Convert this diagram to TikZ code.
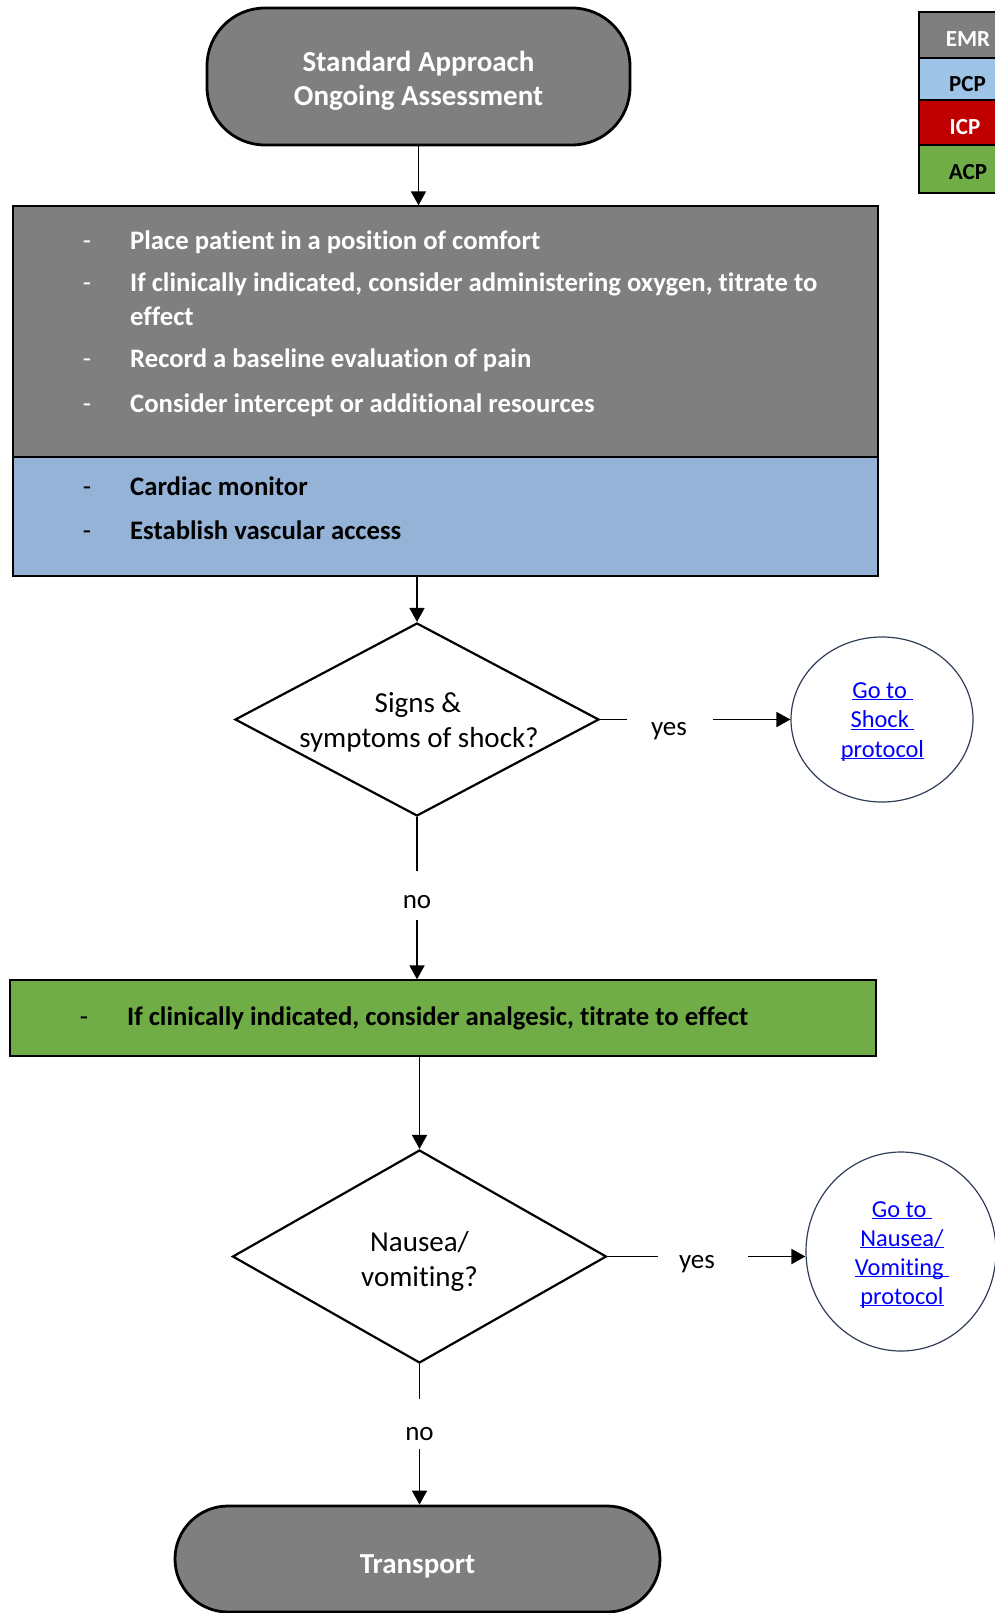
\documentclass[tikz,border=0pt]{standalone}
\usepackage{fontspec}
\setmainfont{Carlito}[Ligatures=NoCommon]
\usetikzlibrary{arrows.meta,shapes.geometric}
\definecolor{boxgray}{HTML}{7F7F7F}
\definecolor{pcpblue}{HTML}{95B3D7}
\definecolor{legblue}{HTML}{9DC3E6}
\definecolor{icpred}{HTML}{C00000}
\definecolor{acpgreen}{HTML}{70AD47}
\definecolor{linkblue}{HTML}{0000FF}
\definecolor{circedge}{HTML}{2F3E56}
\newcommand{\lnk}[1]{\underline{\smash{#1}}}
\begin{document}
\begin{tikzpicture}[x=1pt,y=-1pt,
  terminal/.style={draw=black, line width=2.8pt, fill=boxgray, rounded corners=58pt, inner sep=0},
  termtext/.style={anchor=base, inner sep=0, text=white, font=\fontsize{29}{33}\selectfont\bfseries},
  panel/.style={draw=black, line width=1.3pt, inner sep=0},
  bullettext/.style={anchor=base west, inner sep=0, font=\fontsize{26.7}{30}\selectfont\bfseries},
  dashmark/.style={anchor=base, inner sep=0, font=\fontsize{27}{30}\selectfont},
  decision/.style={draw=black, line width=2.2pt, shape=diamond, inner sep=0},
  dectext/.style={anchor=base, inner sep=0, font=\fontsize{29}{34}\selectfont},
  lbl/.style={anchor=base, inner sep=0, font=\fontsize{27}{30}\selectfont},
  link/.style={draw=circedge, line width=1.2pt, shape=ellipse, inner sep=0},
  linktext/.style={anchor=base, inner sep=0, text=linkblue, font=\fontsize{24.4}{29}\selectfont},
  legendbox/.style={draw=black, line width=2.6pt, minimum width=101pt, inner sep=0},
  legendtext/.style={anchor=base, inner sep=0, font=\fontsize{23}{26}\selectfont\bfseries},
  conn/.style={line width=1.8pt},
  arr/.style={line width=1.8pt, -{Triangle[length=14pt,width=15pt]}}
]
\useasboundingbox (0,0) rectangle (995,1613);

% legend
\node[legendbox, fill=boxgray, minimum height=46pt] (lemr) at (969.5,35) {};
\node[legendbox, fill=legblue, minimum height=42pt] (lpcp) at (969.5,79) {};
\node[legendbox, fill=icpred, minimum height=45pt] (licp) at (969.5,122.5) {};
\node[legendbox, fill=acpgreen, minimum height=48pt] (lacp) at (969.5,169) {};
\node[legendtext, text=white] (temr) at (968,47) {EMR};
\node[legendtext, text=black] (tpcp) at (967.5,92) {PCP};
\node[legendtext, text=white] (ticp) at (965,135) {ICP};
\node[legendtext, text=black] (tacp) at (968,180) {ACP};

% start terminal
\node[terminal, minimum width=423pt, minimum height=137pt] (start) at (418.5,76.5) {};
\node[termtext] (start1) at (418.5,71.5) {Standard Approach};
\node[termtext] (start2) at (418.5,105.5) {Ongoing Assessment};

% gray and blue panels
\node[panel, fill=boxgray, minimum width=865pt, minimum height=251pt] (gray) at (445.5,331.5) {};
\node[panel, fill=pcpblue, minimum width=865pt, minimum height=119pt] (blue) at (445.5,516.5) {};

\begin{scope}[text=white]
\node[dashmark] (g1d) at (87,250) {-};
\node[bullettext] (g1) at (130,250) {Place patient in a position of comfort};
\node[dashmark] (g2d) at (87,291) {-};
\node[bullettext] (g2) at (130,291) {If clinically indicated, consider administering oxygen, titrate to};
\node[bullettext] (g2b) at (130,325.7) {effect};
\node[dashmark] (g3d) at (87,367.7) {-};
\node[bullettext] (g3) at (130,367.7) {Record a baseline evaluation of pain};
\node[dashmark] (g4d) at (87,412.7) {-};
\node[bullettext] (g4) at (130,412.7) {Consider intercept or additional resources};
\end{scope}
\node[dashmark] (b1d) at (87,495) {-};
\node[bullettext] (b1) at (130,495) {Cardiac monitor};
\node[dashmark] (b2d) at (87,539) {-};
\node[bullettext] (b2) at (130,539) {Establish vascular access};

\draw[arr] (start.south) -- (start.south |- gray.north);

% decision 1
\node[decision, minimum width=364pt, minimum height=193pt] (d1) at (417,719.5) {};
\node[dectext] (d1t1) at (418,712) {Signs \&};
\node[dectext] (d1t2) at (419,747) {symptoms of shock?};
\draw[arr] (blue.south -| d1.north) -- (d1.north);

\coordinate (y1a) at (627,719.5);
\coordinate (y1b) at (713,719.5);
\node[lbl] (y1) at (669,735) {yes};
\node[link, minimum width=182pt, minimum height=165pt] (c1) at (882,719.5) {};
\node[linktext] (c1t1) at (882.5,698) {\lnk{Go to\ }};
\node[linktext] (c1t2) at (882.5,727.5) {\lnk{Shock\ }};
\node[linktext] (c1t3) at (882.5,757) {\lnk{protocol}};
\draw[conn] (d1.east) -- (y1a);
\draw[arr] (y1b) -- (c1.west);

\coordinate (n1a) at (417,871);
\coordinate (n1b) at (417,920);
\node[lbl] (n1) at (417,908) {no};
\draw[conn] (d1.south) -- (n1a);

% green panel
\node[panel, fill=acpgreen, minimum width=866pt, minimum height=76pt] (green) at (443,1018) {};
\node[dashmark] (gr1d) at (84,1025.7) {-};
\node[bullettext] (gr1) at (127,1025.7) {If clinically indicated, consider analgesic, titrate to effect};
\draw[arr] (n1b) -- (n1b |- green.north);

% decision 2
\node[decision, minimum width=374pt, minimum height=213pt] (d2) at (419.5,1256.5) {};
\node[dectext] (d2t1) at (419.5,1251) {Nausea/};
\node[dectext] (d2t2) at (419.5,1286) {vomiting?};
\draw[arr] (green.south -| d2.north) -- (d2.north);

\coordinate (y2a) at (658,1256.5);
\coordinate (y2b) at (748,1256.5);
\node[lbl] (y2) at (697,1268) {yes};
\node[link, minimum width=190pt, minimum height=199pt] (c2) at (901,1251.5) {};
\node[linktext] (c2t1) at (902,1217) {\lnk{Go to\ }};
\node[linktext] (c2t2) at (902,1246) {\lnk{Nausea/}};
\node[linktext] (c2t3) at (902,1275) {\lnk{Vomiting\ }};
\node[linktext] (c2t4) at (902,1304) {\lnk{protocol}};
\draw[conn] (d2.east) -- (y2a);
\draw[arr] (y2b) -- (y2b -| c2.west);

\coordinate (n2a) at (419.5,1399);
\coordinate (n2b) at (419.5,1449);
\node[lbl] (n2) at (419.5,1440) {no};
\draw[conn] (d2.south) -- (n2a);

% end terminal
\node[terminal, rounded corners=53pt, minimum width=485pt, minimum height=106pt] (end) at (417.5,1559) {};
\node[termtext] (endt) at (417.5,1573) {Transport};
\draw[arr] (n2b) -- (n2b |- end.north);
\end{tikzpicture}
\end{document}
